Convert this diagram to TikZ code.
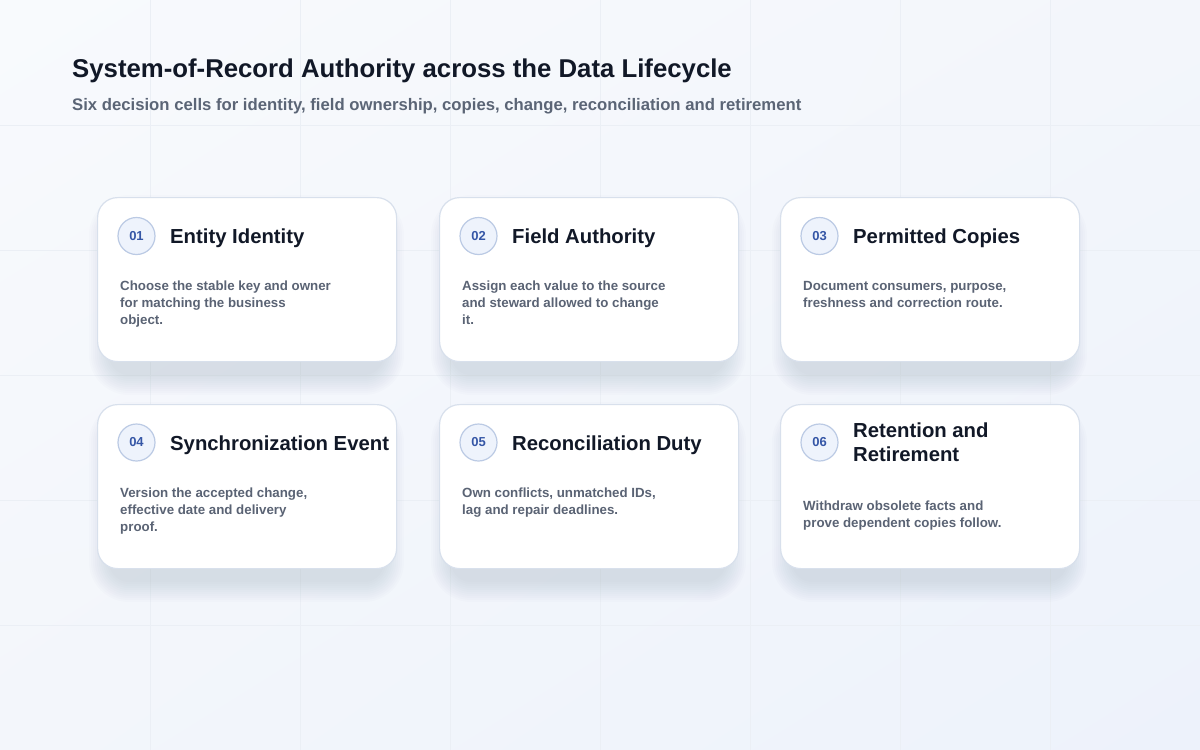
\documentclass[tikz,border=0pt]{standalone}
\usepackage{fontspec}
\setmainfont{Liberation Sans}
\usetikzlibrary{shadings}
\definecolor{bgA}{HTML}{F8FAFD}
\definecolor{bgB}{HTML}{F3F6FB}
\definecolor{bgC}{HTML}{EDF2FB}
\definecolor{gridc}{HTML}{EBEFF5}
\definecolor{cardline}{HTML}{D8E0EC}
\definecolor{discline}{HTML}{BBCAE4}
\definecolor{discfill}{HTML}{EEF3FC}
\definecolor{numblue}{HTML}{3556A6}
\definecolor{titleink}{HTML}{111827}
\definecolor{subink}{HTML}{5B6576}
\definecolor{bodyink}{HTML}{5A6374}
\definecolor{shadowc}{HTML}{334366}
\tikzset{
  cardbox/.style={draw=cardline, line width=1.2pt, fill=white, rounded corners=20pt,
    minimum width=299pt, minimum height=164pt, anchor=north west, inner sep=0pt},
  numdisc/.style={circle, draw=discline, line width=1.2pt, fill=discfill, minimum size=37pt,
    inner sep=0pt, font=\fontsize{13}{15}\selectfont\bfseries, text=numblue},
  cardtitle/.style={anchor=base west, inner sep=0pt, font=\fontsize{20.3}{24}\selectfont\bfseries, text=titleink},
  bodyline/.style={anchor=base west, inner sep=0pt, font=\fontsize{13.3}{17}\selectfont\bfseries, text=bodyink},
  gridline/.style={draw=gridc, line width=1pt},
}
\newcommand\cardshadow[2]{%
  \foreach \k [evaluate=\k as \r using 20+2*\k] in {0,...,10}
    \fill[shadowc, opacity=0.010, rounded corners=\r pt]
      (#1+12-2*\k, #2+18-2*\k) rectangle (#1+287+2*\k, #2+178+2*\k);
}
\begin{document}
\begin{tikzpicture}[x=1pt,y=-1pt]
\useasboundingbox (0,0) rectangle (1200,750);
\shade[upper left=bgA, upper right=bgB, lower left=bgB, lower right=bgC] (0,0) rectangle (1200,750);
\foreach \gx in {150,300,...,1050} \draw[gridline] (\gx,0) -- (\gx,750);
\foreach \gy in {125,250,...,625} \draw[gridline] (0,\gy) -- (1200,\gy);

\node[anchor=base west, inner sep=0pt, font=\fontsize{25.75}{30}\selectfont\bfseries, text=titleink]
  (title) at (72,77) {System-of-Record Authority across the Data Lifecycle};
\node[anchor=base west, inner sep=0pt, font=\fontsize{16.7}{20}\selectfont\bfseries, text=subink]
  (subtitle) at (72,110) {Six decision cells for identity, field ownership, copies, change, reconciliation and retirement};

% shadows
\cardshadow{97}{197}\cardshadow{439}{197}\cardshadow{780}{197}
\cardshadow{97}{404}\cardshadow{439}{404}\cardshadow{780}{404}

% card 1
\node[cardbox] (c1) at (97,197) {};
\node[numdisc] (c1n) at (136.5,236) {01};
\node[cardtitle] (c1t) at (170,243) {Entity Identity};
\node[bodyline] (c1b1) at (120,290) {Choose the stable key and owner};
\node[bodyline] (c1b2) at (120,307) {for matching the business};
\node[bodyline] (c1b3) at (120,324) {object.};

% card 2
\node[cardbox] (c2) at (439,197) {};
\node[numdisc] (c2n) at (478.5,236) {02};
\node[cardtitle] (c2t) at (512,243) {Field Authority};
\node[bodyline] (c2b1) at (462,290) {Assign each value to the source};
\node[bodyline] (c2b2) at (462,307) {and steward allowed to change};
\node[bodyline] (c2b3) at (462,324) {it.};

% card 3
\node[cardbox] (c3) at (780,197) {};
\node[numdisc] (c3n) at (819.5,236) {03};
\node[cardtitle] (c3t) at (853,243) {Permitted Copies};
\node[bodyline] (c3b1) at (803,290) {Document consumers, purpose,};
\node[bodyline] (c3b2) at (803,307) {freshness and correction route.};

% card 4
\node[cardbox] (c4) at (97,404) {};
\node[numdisc] (c4n) at (136.5,442.5) {04};
\node[cardtitle] (c4t) at (170,450) {Synchronization Event};
\node[bodyline] (c4b1) at (120,497) {Version the accepted change,};
\node[bodyline] (c4b2) at (120,514) {effective date and delivery};
\node[bodyline] (c4b3) at (120,531) {proof.};

% card 5
\node[cardbox] (c5) at (439,404) {};
\node[numdisc] (c5n) at (478.5,442.5) {05};
\node[cardtitle] (c5t) at (512,450) {Reconciliation Duty};
\node[bodyline] (c5b1) at (462,497) {Own conflicts, unmatched IDs,};
\node[bodyline] (c5b2) at (462,514) {lag and repair deadlines.};

% card 6
\node[cardbox] (c6) at (780,404) {};
\node[numdisc] (c6n) at (819.5,442.5) {06};
\node[cardtitle] (c6t1) at (853,437) {Retention and};
\node[cardtitle] (c6t2) at (853,461) {Retirement};
\node[bodyline] (c6b1) at (803,510) {Withdraw obsolete facts and};
\node[bodyline] (c6b2) at (803,527) {prove dependent copies follow.};
\end{tikzpicture}
\end{document}
